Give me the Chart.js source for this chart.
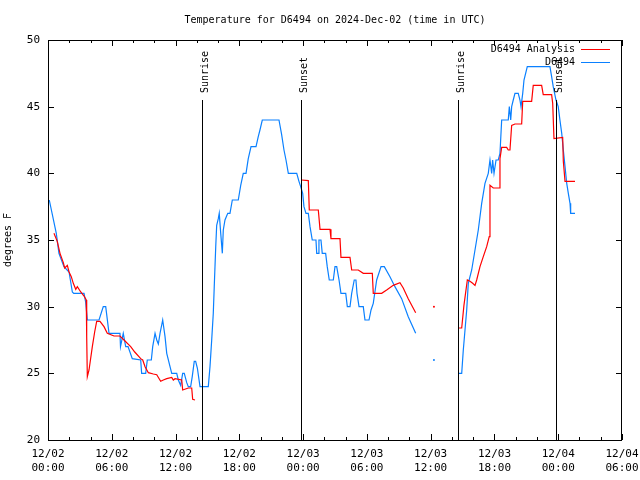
<!DOCTYPE html>
<html>
<head>
<meta charset="utf-8">
<script src="https://cdn.jsdelivr.net/npm/chart.js@4/dist/chart.umd.min.js"></script>
<style>
  html, body { margin: 0; padding: 0; background: #fff; }
</style>
</head>
<body>
<canvas id="chart" width="640" height="480"></canvas>
<script>
// Temperature chart, gnuplot look. Hours counted from 12/02 00:00 UTC.
const FONT = "'DejaVu Sans Mono', monospace";

const titleText = 'Temperature for D6494 on 2024-Dec-02 (time in UTC)';
const yLabel = 'degrees F';
const seriesNames = ['D6494 Analysis', 'D6494'];
const seriesColors = ['#ff0000', '#0a80ff'];

const sunHours = [14.49, 23.8, 38.57, 47.8];
const sunLabels = ['Sunrise', 'Sunset', 'Sunrise', 'Sunset'];

// observed station temps
const obsHours = [
  0.12, 0.78, 1.03, 1.5, 1.98, 2.29, 2.42, 3.39, 3.55, 3.7, 4.8, 5.2, 5.43, 5.74, 6.77, 6.82,
  7.08, 7.31, 7.53, 7.93, 8.72, 8.81, 9.19, 9.34, 9.72, 9.85, 10.07, 10.23, 10.38, 10.54, 10.79,
  11.01, 11.17, 11.48, 11.64, 12.11, 12.26, 12.48, 12.67, 12.82, 13.05, 13.2, 13.42, 13.57, 13.76,
  13.89, 14.05, 14.3, 15.08, 15.24, 15.4, 15.55, 15.64, 15.78, 15.87, 16.02, 16.11, 16.25, 16.4,
  16.49, 16.65, 16.91, 17.12, 17.34, 17.9, 18.13, 18.37, 18.63, 18.84, 19.1, 19.57, 19.78, 19.94,
  20.16, 21.73, 21.98, 22.2, 22.39, 22.61, 23.4, 23.61, 23.77, 23.96, 24.08, 24.27, 24.49, 24.65,
  24.86, 25.21, 25.28, 25.43, 25.49, 25.68, 25.8, 26.12, 26.27, 26.46, 26.84, 27.0, 27.16, 27.38,
  27.56, 28.01, 28.16, 28.41, 28.57, 28.81, 28.97, 29.07, 29.26, 29.66, 29.82, 30.2, 30.39, 30.6,
  30.92, 31.33, 31.64, 32.17, 32.64, 33.27, 33.89, 34.59, 35.4, 36.31, 37.2,
  38.6, 38.92, 39.07, 39.23, 39.39, 39.54, 39.86, 40.17, 40.48, 40.8, 41.11, 41.42, 41.58, 41.74,
  41.83, 41.96, 42.15, 42.36, 42.52, 42.68, 43.3, 43.4, 43.53, 43.62, 43.77, 43.93, 44.24, 44.4,
  44.5, 44.66, 44.78, 45.09, 47.22, 47.38, 47.53, 47.79, 48.0, 48.16, 48.33, 48.48, 48.64, 48.8,
  48.95, 49.11, 49.17, 49.58
];
const obsTemps = [
  38.0, 35.5, 34.0, 33.0, 32.6, 31.1, 31.0, 31.0, 30.3, 29.0, 29.0, 30.0, 30.0, 28.0, 28.0, 27.0,
  28.0, 27.0, 27.0, 26.1, 26.0, 25.0, 25.0, 26.0, 26.0, 27.0, 28.0, 27.5, 27.2, 28.0, 29.0,
  27.75, 26.5, 25.5, 25.0, 25.0, 24.5, 24.1, 25.0, 25.0, 24.3, 24.0, 24.0, 24.75, 25.9,
  25.9, 25.4, 24.0, 24.0, 25.5, 27.5, 29.5, 31.5, 34.5, 36.1, 36.6, 37.0, 35.5, 34.0,
  35.75, 36.5, 37.0, 37.0, 38.0, 38.0, 39.1, 40.0, 40.0, 41.1, 42.0, 42.0, 42.75, 43.25,
  44.0, 44.0, 42.9, 41.75, 41.0, 40.0, 40.0, 39.4, 39.0, 38.5, 37.5, 37.0, 37.0, 36.0,
  35.0, 35.0, 34.0, 34.0, 35.0, 35.0, 34.0, 34.0, 33.0, 32.0, 32.0, 33.0, 33.0, 32.0,
  31.0, 31.0, 30.0, 30.0, 31.0, 32.0, 32.0, 31.0, 30.0, 30.0, 29.0, 29.0, 29.75, 30.25,
  32.0, 33.0, 33.0, 32.25, 31.5, 30.6, 29.25, 28.0, null, 26.0, null,
  25.0, 25.0, 26.75, 28.25, 29.75, 31.75, 32.75, 34.25, 35.75, 37.75, 39.25, 40.0, 41.0, 40.0,
  41.0, 40.0, 41.0, 41.0, 41.5, 44.0, 44.0, 45.0, 44.0, 45.0, 45.5, 46.0, 46.0, 45.5,
  45.0, 46.0, 47.0, 48.0, 48.0, 47.25, 46.5, 45.5, 45.0, 44.0, 43.0, 41.75, 40.5, 39.25,
  38.5, 37.75, 37.0, 37.0
];

// analysis temps
const anaHours = [
  0.56, 0.87, 1.13, 1.44, 1.57, 1.82, 1.98, 2.19, 2.38, 2.61, 2.76, 3.08, 3.39, 3.6, 3.64, 3.7,
  3.86, 4.17, 4.39, 4.58, 4.89, 5.27, 5.58, 6.21, 6.77, 7.15, 7.78, 8.16, 8.72, 8.91, 9.13,
  9.44, 9.91, 10.23, 10.6, 10.85, 11.17, 11.64, 11.79, 11.95, 12.58, 12.67, 13.2, 13.52, 13.61,
  13.83, 18.0,
  23.87, 24.49, 24.58, 25.43, 25.59, 26.53, 26.62, 27.47, 27.56, 28.41, 28.57, 29.19, 29.66,
  30.51, 30.6, 31.39, 31.86, 32.48, 33.11, 33.42, 33.89, 34.59, 35.4, 36.31, 37.2,
  38.6, 38.92, 39.13, 39.45, 39.7, 39.95, 40.17, 40.33, 40.64, 40.95, 41.27, 41.51, 41.58,
  41.89, 42.46, 42.52, 42.68, 43.15, 43.3, 43.46, 43.62, 43.93, 44.56, 44.66, 45.5, 45.65,
  46.44, 46.59, 47.38, 47.48, 47.6, 48.42, 48.48, 48.64, 49.58
];
const anaTemps = [
  35.5, 34.9, 34.0, 33.3, 32.9, 33.1, 32.6, 32.25, 31.75, 31.3, 31.5, 31.1, 30.8, 30.5, 27.75, 24.75,
  25.25, 27.0, 28.1, 28.9, 28.9, 28.5, 28.0, 27.8, 27.8, 27.5, 27.0, 26.6, 26.1, 26.0, 25.5,
  25.05, 24.95, 24.9, 24.4, 24.5, 24.6, 24.7, 24.5, 24.6, 24.5, 23.75, 23.9, 23.9, 23.05,
  23.0, null,
  39.5, 39.45, 37.25, 37.25, 35.8, 35.8, 35.1, 35.1, 33.7, 33.7, 32.75, 32.75, 32.5,
  32.5, 31.0, 31.0, 31.25, 31.6, 31.8, 31.4, 30.6, 29.55, null, 30.0, null,
  28.4, 28.4, 30.1, 32.0, 31.9, 31.75, 31.6, 32.0, 33.0, 33.75, 34.5, 35.25, 39.1,
  38.9, 38.9, 41.1, 41.95, 41.95, 41.75, 41.75, 43.6, 43.7, 43.7, 45.4, 45.4, 46.6,
  46.6, 45.9, 45.9, 45.25, 42.6, 42.7, 40.9, 39.4, 39.4
];

function zip(xs, ys) {
    return xs.map((x, i) => ({ x, y: ys[i] }));
}

// single points with gaps on both sides get a dot
function lonelyDot(ctx) {
    const d = ctx.dataset.data;
    const i = ctx.dataIndex;
    if (i === undefined) return 0;
    const prev = d[i - 1], next = d[i + 1];
    const noPrev = !prev || prev.y == null;
    const noNext = !next || next.y == null;
    return noPrev && noNext ? 1 : 0;
}

function tickLabel(v) {
    const day = 2 + Math.floor(v / 24);
    const hr = v % 24;
    return ['12/' + String(day).padStart(2, '0'), String(hr).padStart(2, '0') + ':00'];
}

const framePlugin = {
    id: 'frame',
    afterDatasetsDraw(chart) {
        const { ctx, chartArea: a, scales } = chart;
        const xs = scales.x, ys = scales.y;
        ctx.save();
        ctx.strokeStyle = '#000';
        ctx.lineWidth = 1;

        // sunrise / sunset markers
        ctx.font = '10px ' + FONT;
        ctx.fillStyle = '#000';
        sunHours.forEach((h, i) => {
            const px = Math.round(xs.getPixelForValue(h)) + 0.5;
            ctx.beginPath();
            ctx.moveTo(px, 100);
            ctx.lineTo(px, a.bottom);
            ctx.stroke();
            ctx.save();
            ctx.translate(px + 3, 93);
            ctx.rotate(-Math.PI / 2);
            ctx.textAlign = 'left';
            ctx.textBaseline = 'middle';
            ctx.fillText(sunLabels[i], 0, 0);
            ctx.restore();
        });

        // border box
        ctx.strokeRect(a.left + 0.5, a.top + 0.5, a.right - a.left - 1, a.bottom - a.top);

        // inward ticks, x every 2h (longer every 6h), y every 5
        ctx.beginPath();
        for (let h = 0; h <= 54; h += 2) {
            const px = Math.round(xs.getPixelForValue(h)) + 0.5;
            const len = h % 6 === 0 ? 6 : 3;
            ctx.moveTo(px, a.bottom);
            ctx.lineTo(px, a.bottom - len);
            ctx.moveTo(px, a.top);
            ctx.lineTo(px, a.top + len);
        }
        for (let t = 20; t <= 50; t += 5) {
            const py = Math.round(ys.getPixelForValue(t)) + 0.5;
            ctx.moveTo(a.left, py);
            ctx.lineTo(a.left + 6, py);
            ctx.moveTo(a.right, py);
            ctx.lineTo(a.right - 6, py);
        }
        ctx.stroke();
        ctx.restore();
    },
    afterDraw(chart) {
        const { ctx, chartArea: a } = chart;
        ctx.save();
        ctx.fillStyle = '#000';
        ctx.font = '10px ' + FONT;
        ctx.textAlign = 'center';
        ctx.textBaseline = 'middle';
        ctx.fillText(titleText, (a.left + a.right) / 2, 20);

        // legend, gnuplot style: text then sample line
        ctx.textAlign = 'right';
        seriesNames.forEach((name, i) => {
            const y = 49 + i * 13;
            ctx.fillStyle = '#000';
            ctx.fillText(name, 575, y);
            ctx.strokeStyle = seriesColors[i];
            ctx.lineWidth = 1;
            ctx.beginPath();
            ctx.moveTo(581, y + 0.5);
            ctx.lineTo(610, y + 0.5);
            ctx.stroke();
        });
        ctx.restore();
    }
};

new Chart(document.getElementById('chart'), {
    type: 'line',
    data: {
        datasets: [
            {
                label: seriesNames[0],
                data: zip(anaHours, anaTemps),
                borderColor: seriesColors[0],
                backgroundColor: seriesColors[0],
                borderWidth: 1.2,
                pointRadius: lonelyDot,
                pointBorderWidth: 0,
                spanGaps: false,
                tension: 0,
            },
            {
                label: seriesNames[1],
                data: zip(obsHours, obsTemps),
                borderColor: seriesColors[1],
                backgroundColor: seriesColors[1],
                borderWidth: 1.2,
                pointRadius: lonelyDot,
                pointBorderWidth: 0,
                spanGaps: false,
                tension: 0,
            },
        ],
    },
    options: {
        responsive: false,
        animation: false,
        layout: { padding: { top: 40, right: 18, left: 0, bottom: 0 } },
        plugins: {
            legend: { display: false },
            title: { display: false },
            tooltip: { enabled: false },
        },
        scales: {
            x: {
                type: 'linear',
                min: 0,
                max: 54,
                grid: { display: false, drawTicks: false },
                border: { display: false },
                ticks: {
                    stepSize: 6,
                    autoSkip: false,
                    maxRotation: 0,
                    padding: 7,
                    color: '#000',
                    font: { family: FONT, size: 11, lineHeight: 1.3 },
                    callback: tickLabel,
                },
                afterFit: (s) => {
                    s.height = 40;
                    s.paddingLeft = 0;
                    s.paddingRight = 0;
                },
            },
            y: {
                min: 20,
                max: 50,
                grid: { display: false, drawTicks: false },
                border: { display: false },
                ticks: {
                    stepSize: 5,
                    padding: 8,
                    color: '#000',
                    font: { family: FONT, size: 11 },
                },
                title: {
                    display: true,
                    text: yLabel,
                    color: '#000',
                    padding: 2,
                    font: { family: FONT, size: 10 },
                },
                afterFit: (s) => {
                    s.width = 48;
                    s.paddingTop = 0;
                    s.paddingBottom = 0;
                },
            },
        },
    },
    plugins: [framePlugin],
});
</script>
</body>
</html>
